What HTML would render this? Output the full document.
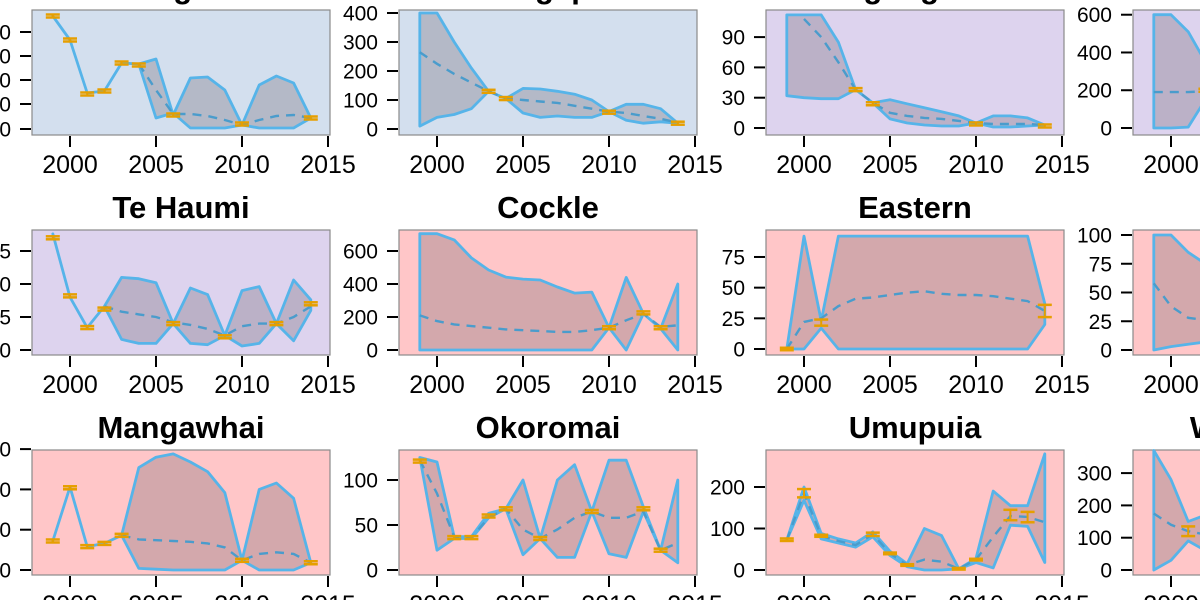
<!DOCTYPE html>
<html><head><meta charset="utf-8"><style>
html,body{margin:0;padding:0;background:#fff;width:1200px;height:600px;overflow:hidden}
svg{display:block;font-family:"Liberation Sans",Arial,sans-serif}
</style></head><body>
<svg id="s" width="1200" height="600" xmlns="http://www.w3.org/2000/svg"></svg>
<script>
const BLUE="#d3dfee",PUR="#ddd3ee",PINK="#ffc6c8";
const P=[
{r:0,c:0,t:"Whangateau",bg:BLUE,tp:[119,94,70,46,22],tl:["0","100","200","300","400"],
 up:[6,30,83,81,53,54,49,105,68,67,80,115,75,66,73,108],
 lo:[6,30,83,81,53,54,108,103,118,118,118,115,118,118,118,108],
 med:[[2004,54],[2005,80],[2006,104],[2007,104],[2008,106],[2009,110],[2010,115],[2011,110],[2012,106],[2013,105],[2014,108]],
 err:[[1999,6],[2000,30],[2001,84],[2002,81],[2003,53],[2004,55],[2006,105],[2010,114],[2014,108]]},
{r:0,c:1,t:"Whangapoua",bg:BLUE,z:119,k:0.29,tv:[0,100,200,300,400],
 up:[400,400,300,210,130,105,140,138,130,120,100,60,85,85,70,20],
 lo:[10,40,50,70,130,105,55,40,45,40,40,60,30,20,25,20],
 medv:[265,225,190,160,130,105,100,95,90,80,70,60,55,45,35,22],
 errv:[[2003,130],[2004,105],[2010,58],[2014,20]]},
{r:0,c:2,t:"Ngunguru",bg:PUR,z:118,k:1.01,tv:[0,30,60,90],
 up:[112,112,112,85,38,25,28,24,20,16,12,5,12,12,10,3],
 lo:[32,30,29,29,38,25,9,5,3,2,2,5,1,1,2,3],
 medv:[null,108,90,65,38,25,15,12,10,9,7,5,4,4,4,3],
 errv:[[2003,38],[2004,24],[2010,4],[2014,2]]},
{r:0,c:3,t:"Whangarei",bg:PUR,z:118,k:0.1888,tv:[0,200,400,600],
 up:[600,600,510,350],lo:[0,0,5,150],medv:[190,190,190,195],errv:[[2002,200]]},
{r:1,c:0,t:"Te Haumi",bg:PUR,z:120,k:1.32,tv:[0,25,50,75],tl:["0","5","0","5"],
 up:[88,40,17,33,55,54,51,20,47,42,11,45,48,20,53,38],
 lo:[88,40,17,33,8,5,5,20,5,4,11,3,5,20,7,30],
 medv:[null,null,null,33,29,27,25,21,19,16,11,18,20,20,25,33],
 errv:[[1999,85],[2000,41],[2001,17],[2002,31],[2006,20],[2009,10],[2012,20],[2014,35]]},
{r:1,c:1,t:"Cockle",bg:PINK,z:120,k:0.165,tv:[0,200,400,600],
 up:[705,705,667,558,485,442,430,424,382,345,351,135,440,220,130,400],
 lo:[0,0,0,0,0,0,0,0,0,0,0,135,0,220,130,0],
 medv:[210,175,155,145,135,125,120,115,110,110,120,135,180,220,140,150],
 errv:[[2010,135],[2012,225],[2013,135]]},
{r:1,c:2,t:"Eastern",bg:PINK,z:119,k:1.227,tv:[0,25,50,75],
 up:[0,92,23,92,92,92,92,92,92,92,92,92,92,92,92,37],
 lo:[0,0,17,0,0,0,0,0,0,0,0,0,0,0,0,20],
 medv:[0,22,25,35,41,42,44,46,47,45,44,44,43,41,39,31],
 errb:[[1999,-1,1],[2001,19,24],[2014,26,36]]},
{r:1,c:3,t:"Mahurangi",bg:PINK,z:120,k:1.15,tv:[0,25,50,75,100],
 up:[100,100,85,75,65],lo:[0,3,5,7,10],medv:[58,38,28,26,26]},
{r:2,c:0,t:"Mangawhai",bg:PINK,z:120,k:0.806,tv:[0,50,100,150],tl:["0","0","0","0"],
 up:[36,103,29,33,43,127,140,144,134,122,96,12,100,108,89,9],
 lo:[36,103,29,33,43,2,1,0,0,0,0,12,0,0,0,9],
 medv:[null,null,null,null,43,38,37,36,35,33,28,12,20,22,20,9],
 errv:[[1999,36],[2000,102],[2001,29],[2002,33],[2003,43],[2010,12],[2014,9]]},
{r:2,c:1,t:"Okoromai",bg:PINK,z:120,k:0.9,tv:[0,50,100],
 up:[125,120,37,37,63,68,100,35,100,117,65,122,122,70,22,100],
 lo:[125,22,35,35,58,68,17,35,14,14,65,18,14,65,22,8],
 medv:[122,85,37,36,58,68,45,35,45,58,65,58,58,65,22,30],
 errv:[[1999,121],[2001,36],[2002,36],[2003,60],[2004,68],[2006,35],[2009,65],[2012,68],[2013,22]]},
{r:2,c:2,t:"Umupuia",bg:PINK,z:120,k:0.415,tv:[0,100,200],
 up:[72,200,88,75,65,92,45,15,100,83,3,28,190,155,155,280],
 lo:[72,168,75,65,55,80,35,8,0,0,3,18,5,108,105,18],
 medv:[72,185,82,70,60,86,40,12,25,20,3,25,80,130,128,115],
 errb:[[1999,70,76],[2000,175,195],[2001,80,85],[2004,82,90],[2005,38,42],[2006,10,14],[2009,1,5],[2010,23,27],[2012,120,145],[2013,115,140]]},
{r:2,c:3,t:"Whangateau",bg:PINK,z:120,k:0.323,tv:[0,100,200,300],
 up:[370,280,150,170],lo:[0,30,90,60],medv:[175,140,120,110],errb:[[2001,105,135]]}
];
let h="";
for(const p of P){
 const L=32+367*p.c, T=[10,230,450][p.r], W=298, H=125;
 const X=y=>L+38+(y-2000)*17.2;
 const Y=v=>T+(p.z-p.k*v);
 h+=`<rect x="${L}" y="${T}" width="${W}" height="${H}" fill="${p.bg}" stroke="#8a8a8a" stroke-width="1.2"/>`;
 h+=`<text x="${L+W/2}" y="${T-12}" text-anchor="middle" font-size="31" font-weight="bold">${p.t}</text>`;
 let tp=p.tp? p.tp.map(o=>T+o) : p.tv.map(v=>Y(v));
 let tl=p.tl||p.tv.map(String);
 tp.forEach((yy,i)=>{h+=`<line x1="${L-12}" x2="${L-1}" y1="${yy}" y2="${yy}" stroke="#000" stroke-width="2"/>`;
  h+=`<text x="${L-21}" y="${yy+7.5}" text-anchor="end" font-size="21">${tl[i]}</text>`;});
 [2000,2005,2010,2015].forEach(y=>{h+=`<line x1="${X(y)}" x2="${X(y)}" y1="${T+H+1}" y2="${T+H+12}" stroke="#000" stroke-width="2"/>`;
  h+=`<text x="${X(y)}" y="${T+H+38}" text-anchor="middle" font-size="25">${y}</text>`;});
 const f=p.tp? (v=>T+v) : Y;
 let pts=[];p.up.forEach((v,i)=>pts.push([X(1999+i),f(v)]));
 for(let i=p.lo.length-1;i>=0;i--)pts.push([X(1999+i),f(p.lo[i])]);
 h+=`<polygon points="${pts.map(a=>a[0].toFixed(1)+","+a[1].toFixed(1)).join(" ")}" fill="rgba(110,100,110,0.3)" stroke="#56b4e9" stroke-width="2.8" stroke-linejoin="round"/>`;
 let m=[];
 if(p.med)m=p.med.map(a=>[X(a[0]),T+a[1]]);
 else if(p.medv)p.medv.forEach((v,i)=>{if(v!=null)m.push([X(1999+i),Y(v)])});
 if(m.length)h+=`<polyline points="${m.map(a=>a[0].toFixed(1)+","+a[1].toFixed(1)).join(" ")}" fill="none" stroke="#4a9ccc" stroke-width="2.4" stroke-dasharray="9,7"/>`;
 let E=[];
 if(p.err)p.err.forEach(a=>E.push([X(a[0]),T+a[1]-1.5,T+a[1]+1.5]));
 if(p.errv)p.errv.forEach(a=>E.push([X(a[0]),Y(a[1])-1.5,Y(a[1])+1.5]));
 if(p.errb)p.errb.forEach(a=>E.push([X(a[0]),Y(a[2]),Y(a[1])]));
 E.forEach(e=>{const x=e[0];
  h+=`<line x1="${x}" x2="${x}" y1="${e[1]}" y2="${e[2]}" stroke="#e69f00" stroke-width="2"/>`;
  h+=`<line x1="${x-7}" x2="${x+7}" y1="${e[1]}" y2="${e[1]}" stroke="#e69f00" stroke-width="2.5"/>`;
  h+=`<line x1="${x-7}" x2="${x+7}" y1="${e[2]}" y2="${e[2]}" stroke="#e69f00" stroke-width="2.5"/>`;});
}
document.getElementById("s").innerHTML=h;
</script>
</body></html>
